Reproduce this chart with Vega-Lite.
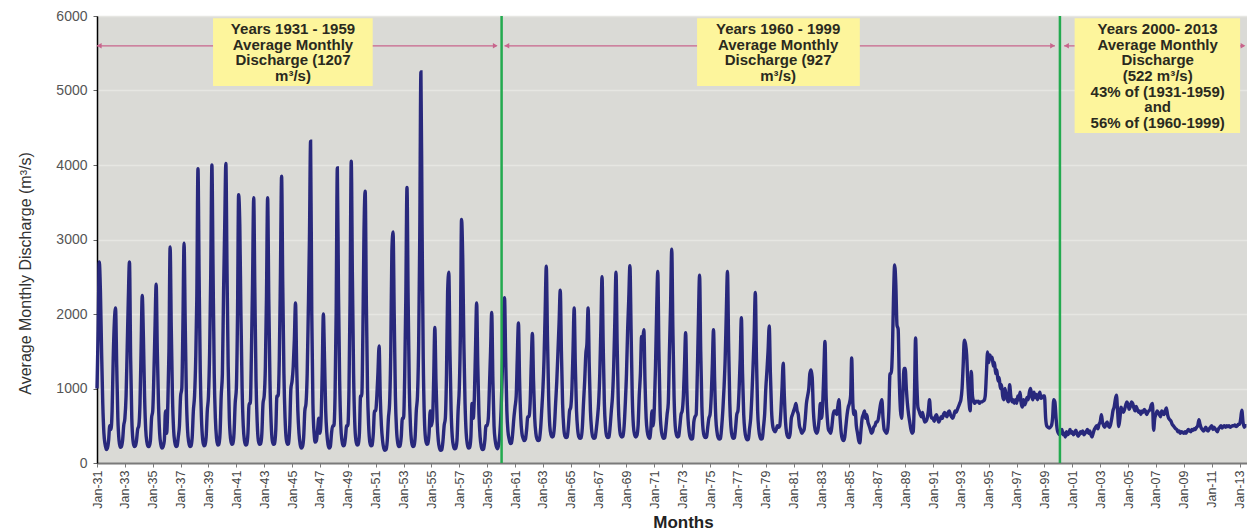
{
"$schema": "https://vega.github.io/schema/vega-lite/v6.json",
"width": 1150, "height": 447,
"autosize": {"type": "none"},
"padding": {"left": 97, "top": 16, "right": 0, "bottom": 69},
"background": "white",
"config": {
  "view": {"fill": "#dadad6", "stroke": "#9a9a9a", "strokeWidth": 1},
  "font": "Liberation Sans",
  "axis": {"labelFont": "Liberation Sans", "titleFont": "Liberation Sans"}
},
"datasets": {
"flow": [
{"t":"1931-01","q":1000},{"t":"1931-02","q":1800},{"t":"1931-03","q":2700},{"t":"1931-04","q":2300},{"t":"1931-05","q":1500},{"t":"1931-06","q":800},{"t":"1931-07","q":400},{"t":"1931-08","q":250},{"t":"1931-09","q":180},{"t":"1931-10","q":200},{"t":"1931-11","q":300},{"t":"1931-12","q":500},
{"t":"1932-01","q":450},{"t":"1932-02","q":700},{"t":"1932-03","q":1400},{"t":"1932-04","q":1900},{"t":"1932-05","q":2080},{"t":"1932-06","q":1300},{"t":"1932-07","q":600},{"t":"1932-08","q":300},{"t":"1932-09","q":210},{"t":"1932-10","q":220},{"t":"1932-11","q":300},{"t":"1932-12","q":500},
{"t":"1933-01","q":600},{"t":"1933-02","q":900},{"t":"1933-03","q":1500},{"t":"1933-04","q":2200},{"t":"1933-05","q":2700},{"t":"1933-06","q":1400},{"t":"1933-07","q":600},{"t":"1933-08","q":300},{"t":"1933-09","q":220},{"t":"1933-10","q":230},{"t":"1933-11","q":300},{"t":"1933-12","q":450},
{"t":"1934-01","q":500},{"t":"1934-02","q":800},{"t":"1934-03","q":1500},{"t":"1934-04","q":2250},{"t":"1934-05","q":1700},{"t":"1934-06","q":900},{"t":"1934-07","q":450},{"t":"1934-08","q":280},{"t":"1934-09","q":220},{"t":"1934-10","q":220},{"t":"1934-11","q":300},{"t":"1934-12","q":600},
{"t":"1935-01","q":700},{"t":"1935-02","q":1200},{"t":"1935-03","q":1800},{"t":"1935-04","q":2400},{"t":"1935-05","q":1500},{"t":"1935-06","q":800},{"t":"1935-07","q":400},{"t":"1935-08","q":250},{"t":"1935-09","q":200},{"t":"1935-10","q":220},{"t":"1935-11","q":300},{"t":"1935-12","q":700},
{"t":"1936-01","q":400},{"t":"1936-02","q":800},{"t":"1936-03","q":1500},{"t":"1936-04","q":2900},{"t":"1936-05","q":1800},{"t":"1936-06","q":900},{"t":"1936-07","q":450},{"t":"1936-08","q":280},{"t":"1936-09","q":220},{"t":"1936-10","q":230},{"t":"1936-11","q":350},{"t":"1936-12","q":500},
{"t":"1937-01","q":900},{"t":"1937-02","q":1000},{"t":"1937-03","q":1800},{"t":"1937-04","q":2950},{"t":"1937-05","q":1900},{"t":"1937-06","q":900},{"t":"1937-07","q":450},{"t":"1937-08","q":280},{"t":"1937-09","q":220},{"t":"1937-10","q":230},{"t":"1937-11","q":350},{"t":"1937-12","q":700},
{"t":"1938-01","q":900},{"t":"1938-02","q":1400},{"t":"1938-03","q":2200},{"t":"1938-04","q":3950},{"t":"1938-05","q":2500},{"t":"1938-06","q":1200},{"t":"1938-07","q":600},{"t":"1938-08","q":320},{"t":"1938-09","q":230},{"t":"1938-10","q":240},{"t":"1938-11","q":350},{"t":"1938-12","q":700},
{"t":"1939-01","q":900},{"t":"1939-02","q":1500},{"t":"1939-03","q":2500},{"t":"1939-04","q":4000},{"t":"1939-05","q":2600},{"t":"1939-06","q":1200},{"t":"1939-07","q":600},{"t":"1939-08","q":330},{"t":"1939-09","q":240},{"t":"1939-10","q":250},{"t":"1939-11","q":400},{"t":"1939-12","q":900},
{"t":"1940-01","q":1200},{"t":"1940-02","q":2300},{"t":"1940-03","q":3150},{"t":"1940-04","q":4020},{"t":"1940-05","q":2600},{"t":"1940-06","q":1300},{"t":"1940-07","q":600},{"t":"1940-08","q":330},{"t":"1940-09","q":250},{"t":"1940-10","q":260},{"t":"1940-11","q":400},{"t":"1940-12","q":800},
{"t":"1941-01","q":1000},{"t":"1941-02","q":2000},{"t":"1941-03","q":3600},{"t":"1941-04","q":3200},{"t":"1941-05","q":2000},{"t":"1941-06","q":1000},{"t":"1941-07","q":500},{"t":"1941-08","q":300},{"t":"1941-09","q":240},{"t":"1941-10","q":250},{"t":"1941-11","q":400},{"t":"1941-12","q":800},
{"t":"1942-01","q":800},{"t":"1942-02","q":1500},{"t":"1942-03","q":2400},{"t":"1942-04","q":3560},{"t":"1942-05","q":2300},{"t":"1942-06","q":1100},{"t":"1942-07","q":550},{"t":"1942-08","q":300},{"t":"1942-09","q":250},{"t":"1942-10","q":260},{"t":"1942-11","q":400},{"t":"1942-12","q":800},
{"t":"1943-01","q":900},{"t":"1943-02","q":1300},{"t":"1943-03","q":2200},{"t":"1943-04","q":3560},{"t":"1943-05","q":2200},{"t":"1943-06","q":1100},{"t":"1943-07","q":550},{"t":"1943-08","q":300},{"t":"1943-09","q":250},{"t":"1943-10","q":260},{"t":"1943-11","q":450},{"t":"1943-12","q":900},
{"t":"1944-01","q":900},{"t":"1944-02","q":1400},{"t":"1944-03","q":2500},{"t":"1944-04","q":3850},{"t":"1944-05","q":2400},{"t":"1944-06","q":1200},{"t":"1944-07","q":600},{"t":"1944-08","q":320},{"t":"1944-09","q":250},{"t":"1944-10","q":260},{"t":"1944-11","q":500},{"t":"1944-12","q":1000},
{"t":"1945-01","q":1100},{"t":"1945-02","q":1300},{"t":"1945-03","q":1650},{"t":"1945-04","q":2150},{"t":"1945-05","q":1300},{"t":"1945-06","q":700},{"t":"1945-07","q":400},{"t":"1945-08","q":250},{"t":"1945-09","q":200},{"t":"1945-10","q":220},{"t":"1945-11","q":350},{"t":"1945-12","q":700},
{"t":"1946-01","q":800},{"t":"1946-02","q":1200},{"t":"1946-03","q":2000},{"t":"1946-04","q":3000},{"t":"1946-05","q":4320},{"t":"1946-06","q":2000},{"t":"1946-07","q":800},{"t":"1946-08","q":400},{"t":"1946-09","q":280},{"t":"1946-10","q":300},{"t":"1946-11","q":450},{"t":"1946-12","q":600},
{"t":"1947-01","q":400},{"t":"1947-02","q":600},{"t":"1947-03","q":1200},{"t":"1947-04","q":2000},{"t":"1947-05","q":1400},{"t":"1947-06","q":700},{"t":"1947-07","q":400},{"t":"1947-08","q":250},{"t":"1947-09","q":200},{"t":"1947-10","q":220},{"t":"1947-11","q":400},{"t":"1947-12","q":500},
{"t":"1948-01","q":500},{"t":"1948-02","q":900},{"t":"1948-03","q":2000},{"t":"1948-04","q":3960},{"t":"1948-05","q":2300},{"t":"1948-06","q":1100},{"t":"1948-07","q":500},{"t":"1948-08","q":300},{"t":"1948-09","q":230},{"t":"1948-10","q":240},{"t":"1948-11","q":350},{"t":"1948-12","q":500},
{"t":"1949-01","q":500},{"t":"1949-02","q":1000},{"t":"1949-03","q":2200},{"t":"1949-04","q":4050},{"t":"1949-05","q":2500},{"t":"1949-06","q":1200},{"t":"1949-07","q":550},{"t":"1949-08","q":300},{"t":"1949-09","q":240},{"t":"1949-10","q":250},{"t":"1949-11","q":400},{"t":"1949-12","q":900},
{"t":"1950-01","q":900},{"t":"1950-02","q":1800},{"t":"1950-03","q":3100},{"t":"1950-04","q":3650},{"t":"1950-05","q":2200},{"t":"1950-06","q":1000},{"t":"1950-07","q":500},{"t":"1950-08","q":280},{"t":"1950-09","q":230},{"t":"1950-10","q":240},{"t":"1950-11","q":400},{"t":"1950-12","q":700},
{"t":"1951-01","q":700},{"t":"1951-02","q":900},{"t":"1951-03","q":1200},{"t":"1951-04","q":1570},{"t":"1951-05","q":900},{"t":"1951-06","q":500},{"t":"1951-07","q":300},{"t":"1951-08","q":200},{"t":"1951-09","q":170},{"t":"1951-10","q":180},{"t":"1951-11","q":300},{"t":"1951-12","q":600},
{"t":"1952-01","q":800},{"t":"1952-02","q":1500},{"t":"1952-03","q":2850},{"t":"1952-04","q":3100},{"t":"1952-05","q":2000},{"t":"1952-06","q":900},{"t":"1952-07","q":450},{"t":"1952-08","q":270},{"t":"1952-09","q":220},{"t":"1952-10","q":230},{"t":"1952-11","q":350},{"t":"1952-12","q":600},
{"t":"1953-01","q":600},{"t":"1953-02","q":1200},{"t":"1953-03","q":2200},{"t":"1953-04","q":3700},{"t":"1953-05","q":2200},{"t":"1953-06","q":1000},{"t":"1953-07","q":500},{"t":"1953-08","q":280},{"t":"1953-09","q":220},{"t":"1953-10","q":230},{"t":"1953-11","q":350},{"t":"1953-12","q":700},
{"t":"1954-01","q":900},{"t":"1954-02","q":1600},{"t":"1954-03","q":3000},{"t":"1954-04","q":5250},{"t":"1954-05","q":3200},{"t":"1954-06","q":1400},{"t":"1954-07","q":600},{"t":"1954-08","q":320},{"t":"1954-09","q":250},{"t":"1954-10","q":260},{"t":"1954-11","q":400},{"t":"1954-12","q":700},
{"t":"1955-01","q":500},{"t":"1955-02","q":600},{"t":"1955-03","q":1100},{"t":"1955-04","q":1820},{"t":"1955-05","q":1100},{"t":"1955-06","q":550},{"t":"1955-07","q":300},{"t":"1955-08","q":200},{"t":"1955-09","q":170},{"t":"1955-10","q":180},{"t":"1955-11","q":300},{"t":"1955-12","q":500},
{"t":"1956-01","q":600},{"t":"1956-02","q":1200},{"t":"1956-03","q":2290},{"t":"1956-04","q":2560},{"t":"1956-05","q":1500},{"t":"1956-06","q":700},{"t":"1956-07","q":350},{"t":"1956-08","q":230},{"t":"1956-09","q":190},{"t":"1956-10","q":200},{"t":"1956-11","q":300},{"t":"1956-12","q":700},
{"t":"1957-01","q":1000},{"t":"1957-02","q":1800},{"t":"1957-03","q":3270},{"t":"1957-04","q":2750},{"t":"1957-05","q":1600},{"t":"1957-06","q":800},{"t":"1957-07","q":400},{"t":"1957-08","q":250},{"t":"1957-09","q":200},{"t":"1957-10","q":210},{"t":"1957-11","q":350},{"t":"1957-12","q":800},
{"t":"1958-01","q":600},{"t":"1958-02","q":900},{"t":"1958-03","q":1500},{"t":"1958-04","q":2150},{"t":"1958-05","q":1300},{"t":"1958-06","q":650},{"t":"1958-07","q":350},{"t":"1958-08","q":220},{"t":"1958-09","q":180},{"t":"1958-10","q":190},{"t":"1958-11","q":300},{"t":"1958-12","q":500},
{"t":"1959-01","q":500},{"t":"1959-02","q":600},{"t":"1959-03","q":1000},{"t":"1959-04","q":1500},{"t":"1959-05","q":2020},{"t":"1959-06","q":1100},{"t":"1959-07","q":500},{"t":"1959-08","q":300},{"t":"1959-09","q":220},{"t":"1959-10","q":190},{"t":"1959-11","q":250},{"t":"1959-12","q":400},
{"t":"1960-01","q":700},{"t":"1960-02","q":1200},{"t":"1960-03","q":1800},{"t":"1960-04","q":2220},{"t":"1960-05","q":1400},{"t":"1960-06","q":700},{"t":"1960-07","q":420},{"t":"1960-08","q":320},{"t":"1960-09","q":260},{"t":"1960-10","q":270},{"t":"1960-11","q":400},{"t":"1960-12","q":600},
{"t":"1961-01","q":750},{"t":"1961-02","q":900},{"t":"1961-03","q":1400},{"t":"1961-04","q":1880},{"t":"1961-05","q":1100},{"t":"1961-06","q":600},{"t":"1961-07","q":400},{"t":"1961-08","q":330},{"t":"1961-09","q":300},{"t":"1961-10","q":320},{"t":"1961-11","q":450},{"t":"1961-12","q":620},
{"t":"1962-01","q":620},{"t":"1962-02","q":800},{"t":"1962-03","q":1300},{"t":"1962-04","q":1740},{"t":"1962-05","q":1100},{"t":"1962-06","q":600},{"t":"1962-07","q":400},{"t":"1962-08","q":320},{"t":"1962-09","q":300},{"t":"1962-10","q":310},{"t":"1962-11","q":450},{"t":"1962-12","q":700},
{"t":"1963-01","q":980},{"t":"1963-02","q":1400},{"t":"1963-03","q":2000},{"t":"1963-04","q":2640},{"t":"1963-05","q":1700},{"t":"1963-06","q":900},{"t":"1963-07","q":500},{"t":"1963-08","q":380},{"t":"1963-09","q":350},{"t":"1963-10","q":360},{"t":"1963-11","q":500},{"t":"1963-12","q":800},
{"t":"1964-01","q":1100},{"t":"1964-02","q":1500},{"t":"1964-03","q":1880},{"t":"1964-04","q":2320},{"t":"1964-05","q":1500},{"t":"1964-06","q":800},{"t":"1964-07","q":480},{"t":"1964-08","q":360},{"t":"1964-09","q":340},{"t":"1964-10","q":350},{"t":"1964-11","q":500},{"t":"1964-12","q":700},
{"t":"1965-01","q":750},{"t":"1965-02","q":1000},{"t":"1965-03","q":1500},{"t":"1965-04","q":2080},{"t":"1965-05","q":1300},{"t":"1965-06","q":700},{"t":"1965-07","q":450},{"t":"1965-08","q":350},{"t":"1965-09","q":330},{"t":"1965-10","q":340},{"t":"1965-11","q":480},{"t":"1965-12","q":800},
{"t":"1966-01","q":1100},{"t":"1966-02","q":1470},{"t":"1966-03","q":1600},{"t":"1966-04","q":2080},{"t":"1966-05","q":1300},{"t":"1966-06","q":700},{"t":"1966-07","q":450},{"t":"1966-08","q":350},{"t":"1966-09","q":330},{"t":"1966-10","q":340},{"t":"1966-11","q":450},{"t":"1966-12","q":600},
{"t":"1967-01","q":800},{"t":"1967-02","q":1200},{"t":"1967-03","q":1800},{"t":"1967-04","q":2500},{"t":"1967-05","q":1600},{"t":"1967-06","q":800},{"t":"1967-07","q":480},{"t":"1967-08","q":360},{"t":"1967-09","q":340},{"t":"1967-10","q":350},{"t":"1967-11","q":500},{"t":"1967-12","q":700},
{"t":"1968-01","q":900},{"t":"1968-02","q":1300},{"t":"1968-03","q":1900},{"t":"1968-04","q":2560},{"t":"1968-05","q":1600},{"t":"1968-06","q":800},{"t":"1968-07","q":480},{"t":"1968-08","q":370},{"t":"1968-09","q":350},{"t":"1968-10","q":360},{"t":"1968-11","q":500},{"t":"1968-12","q":800},
{"t":"1969-01","q":1200},{"t":"1969-02","q":1800},{"t":"1969-03","q":2190},{"t":"1969-04","q":2650},{"t":"1969-05","q":1800},{"t":"1969-06","q":900},{"t":"1969-07","q":500},{"t":"1969-08","q":380},{"t":"1969-09","q":350},{"t":"1969-10","q":370},{"t":"1969-11","q":500},{"t":"1969-12","q":900},
{"t":"1970-01","q":1200},{"t":"1970-02","q":1700},{"t":"1970-03","q":1650},{"t":"1970-04","q":1790},{"t":"1970-05","q":1100},{"t":"1970-06","q":600},{"t":"1970-07","q":420},{"t":"1970-08","q":350},{"t":"1970-09","q":330},{"t":"1970-10","q":450},{"t":"1970-11","q":700},{"t":"1970-12","q":500},
{"t":"1971-01","q":750},{"t":"1971-02","q":1300},{"t":"1971-03","q":2000},{"t":"1971-04","q":2570},{"t":"1971-05","q":1500},{"t":"1971-06","q":700},{"t":"1971-07","q":450},{"t":"1971-08","q":360},{"t":"1971-09","q":330},{"t":"1971-10","q":340},{"t":"1971-11","q":480},{"t":"1971-12","q":650},
{"t":"1972-01","q":800},{"t":"1972-02","q":1500},{"t":"1972-03","q":2100},{"t":"1972-04","q":2870},{"t":"1972-05","q":1800},{"t":"1972-06","q":900},{"t":"1972-07","q":500},{"t":"1972-08","q":380},{"t":"1972-09","q":350},{"t":"1972-10","q":360},{"t":"1972-11","q":500},{"t":"1972-12","q":650},
{"t":"1973-01","q":700},{"t":"1973-02","q":900},{"t":"1973-03","q":1300},{"t":"1973-04","q":1750},{"t":"1973-05","q":1000},{"t":"1973-06","q":600},{"t":"1973-07","q":420},{"t":"1973-08","q":340},{"t":"1973-09","q":320},{"t":"1973-10","q":330},{"t":"1973-11","q":550},{"t":"1973-12","q":620},
{"t":"1974-01","q":650},{"t":"1974-02","q":1200},{"t":"1974-03","q":1900},{"t":"1974-04","q":2520},{"t":"1974-05","q":1500},{"t":"1974-06","q":750},{"t":"1974-07","q":450},{"t":"1974-08","q":360},{"t":"1974-09","q":340},{"t":"1974-10","q":350},{"t":"1974-11","q":480},{"t":"1974-12","q":600},
{"t":"1975-01","q":650},{"t":"1975-02","q":900},{"t":"1975-03","q":1300},{"t":"1975-04","q":1790},{"t":"1975-05","q":1100},{"t":"1975-06","q":600},{"t":"1975-07","q":420},{"t":"1975-08","q":340},{"t":"1975-09","q":320},{"t":"1975-10","q":330},{"t":"1975-11","q":480},{"t":"1975-12","q":700},
{"t":"1976-01","q":1000},{"t":"1976-02","q":1400},{"t":"1976-03","q":2000},{"t":"1976-04","q":2570},{"t":"1976-05","q":1600},{"t":"1976-06","q":800},{"t":"1976-07","q":480},{"t":"1976-08","q":360},{"t":"1976-09","q":330},{"t":"1976-10","q":340},{"t":"1976-11","q":480},{"t":"1976-12","q":650},
{"t":"1977-01","q":700},{"t":"1977-02","q":1000},{"t":"1977-03","q":1400},{"t":"1977-04","q":1950},{"t":"1977-05","q":1200},{"t":"1977-06","q":650},{"t":"1977-07","q":430},{"t":"1977-08","q":340},{"t":"1977-09","q":310},{"t":"1977-10","q":320},{"t":"1977-11","q":460},{"t":"1977-12","q":600},
{"t":"1978-01","q":900},{"t":"1978-02","q":1300},{"t":"1978-03","q":1700},{"t":"1978-04","q":2290},{"t":"1978-05","q":1400},{"t":"1978-06","q":700},{"t":"1978-07","q":450},{"t":"1978-08","q":350},{"t":"1978-09","q":320},{"t":"1978-10","q":330},{"t":"1978-11","q":480},{"t":"1978-12","q":650},
{"t":"1979-01","q":1000},{"t":"1979-02","q":1250},{"t":"1979-03","q":1500},{"t":"1979-04","q":1840},{"t":"1979-05","q":1200},{"t":"1979-06","q":700},{"t":"1979-07","q":500},{"t":"1979-08","q":440},{"t":"1979-09","q":420},{"t":"1979-10","q":450},{"t":"1979-11","q":500},{"t":"1979-12","q":480},
{"t":"1980-01","q":500},{"t":"1980-02","q":700},{"t":"1980-03","q":1000},{"t":"1980-04","q":1340},{"t":"1980-05","q":900},{"t":"1980-06","q":550},{"t":"1980-07","q":400},{"t":"1980-08","q":350},{"t":"1980-09","q":340},{"t":"1980-10","q":400},{"t":"1980-11","q":600},{"t":"1980-12","q":650},
{"t":"1981-01","q":700},{"t":"1981-02","q":750},{"t":"1981-03","q":800},{"t":"1981-04","q":700},{"t":"1981-05","q":650},{"t":"1981-06","q":500},{"t":"1981-07","q":450},{"t":"1981-08","q":400},{"t":"1981-09","q":420},{"t":"1981-10","q":450},{"t":"1981-11","q":600},{"t":"1981-12","q":800},
{"t":"1982-01","q":900},{"t":"1982-02","q":1000},{"t":"1982-03","q":1200},{"t":"1982-04","q":1250},{"t":"1982-05","q":1150},{"t":"1982-06","q":700},{"t":"1982-07","q":500},{"t":"1982-08","q":420},{"t":"1982-09","q":400},{"t":"1982-10","q":450},{"t":"1982-11","q":600},{"t":"1982-12","q":800},
{"t":"1983-01","q":600},{"t":"1983-02","q":800},{"t":"1983-03","q":1200},{"t":"1983-04","q":1630},{"t":"1983-05","q":900},{"t":"1983-06","q":600},{"t":"1983-07","q":450},{"t":"1983-08","q":420},{"t":"1983-09","q":400},{"t":"1983-10","q":500},{"t":"1983-11","q":650},{"t":"1983-12","q":700},
{"t":"1984-01","q":700},{"t":"1984-02","q":650},{"t":"1984-03","q":750},{"t":"1984-04","q":850},{"t":"1984-05","q":600},{"t":"1984-06","q":400},{"t":"1984-07","q":320},{"t":"1984-08","q":300},{"t":"1984-09","q":350},{"t":"1984-10","q":500},{"t":"1984-11","q":650},{"t":"1984-12","q":750},
{"t":"1985-01","q":800},{"t":"1985-02","q":900},{"t":"1985-03","q":1410},{"t":"1985-04","q":800},{"t":"1985-05","q":650},{"t":"1985-06","q":700},{"t":"1985-07","q":500},{"t":"1985-08","q":400},{"t":"1985-09","q":300},{"t":"1985-10","q":270},{"t":"1985-11","q":450},{"t":"1985-12","q":600},
{"t":"1986-01","q":650},{"t":"1986-02","q":700},{"t":"1986-03","q":600},{"t":"1986-04","q":650},{"t":"1986-05","q":550},{"t":"1986-06","q":500},{"t":"1986-07","q":450},{"t":"1986-08","q":400},{"t":"1986-09","q":420},{"t":"1986-10","q":480},{"t":"1986-11","q":500},{"t":"1986-12","q":550},
{"t":"1987-01","q":550},{"t":"1987-02","q":600},{"t":"1987-03","q":700},{"t":"1987-04","q":800},{"t":"1987-05","q":850},{"t":"1987-06","q":600},{"t":"1987-07","q":450},{"t":"1987-08","q":420},{"t":"1987-09","q":400},{"t":"1987-10","q":450},{"t":"1987-11","q":700},{"t":"1987-12","q":1200},
{"t":"1988-01","q":1200},{"t":"1988-02","q":1500},{"t":"1988-03","q":2200},{"t":"1988-04","q":2660},{"t":"1988-05","q":2400},{"t":"1988-06","q":1850},{"t":"1988-07","q":1800},{"t":"1988-08","q":1100},{"t":"1988-09","q":700},{"t":"1988-10","q":600},{"t":"1988-11","q":900},{"t":"1988-12","q":1270},
{"t":"1989-01","q":1270},{"t":"1989-02","q":1000},{"t":"1989-03","q":800},{"t":"1989-04","q":650},{"t":"1989-05","q":550},{"t":"1989-06","q":450},{"t":"1989-07","q":400},{"t":"1989-08","q":420},{"t":"1989-09","q":900},{"t":"1989-10","q":1680},{"t":"1989-11","q":1100},{"t":"1989-12","q":750},
{"t":"1990-01","q":700},{"t":"1990-02","q":650},{"t":"1990-03","q":620},{"t":"1990-04","q":680},{"t":"1990-05","q":600},{"t":"1990-06","q":550},{"t":"1990-07","q":560},{"t":"1990-08","q":600},{"t":"1990-09","q":700},{"t":"1990-10","q":850},{"t":"1990-11","q":650},{"t":"1990-12","q":600},
{"t":"1991-01","q":600},{"t":"1991-02","q":560},{"t":"1991-03","q":620},{"t":"1991-04","q":650},{"t":"1991-05","q":600},{"t":"1991-06","q":550},{"t":"1991-07","q":580},{"t":"1991-08","q":620},{"t":"1991-09","q":600},{"t":"1991-10","q":650},{"t":"1991-11","q":680},{"t":"1991-12","q":640},
{"t":"1992-01","q":620},{"t":"1992-02","q":680},{"t":"1992-03","q":700},{"t":"1992-04","q":650},{"t":"1992-05","q":620},{"t":"1992-06","q":600},{"t":"1992-07","q":640},{"t":"1992-08","q":700},{"t":"1992-09","q":680},{"t":"1992-10","q":720},{"t":"1992-11","q":760},{"t":"1992-12","q":800},
{"t":"1993-01","q":850},{"t":"1993-02","q":1000},{"t":"1993-03","q":1300},{"t":"1993-04","q":1650},{"t":"1993-05","q":1600},{"t":"1993-06","q":1450},{"t":"1993-07","q":1100},{"t":"1993-08","q":830},{"t":"1993-09","q":700},{"t":"1993-10","q":1230},{"t":"1993-11","q":900},{"t":"1993-12","q":830},
{"t":"1994-01","q":800},{"t":"1994-02","q":830},{"t":"1994-03","q":820},{"t":"1994-04","q":830},{"t":"1994-05","q":800},{"t":"1994-06","q":820},{"t":"1994-07","q":820},{"t":"1994-08","q":830},{"t":"1994-09","q":840},{"t":"1994-10","q":900},{"t":"1994-11","q":1200},{"t":"1994-12","q":1490},
{"t":"1995-01","q":1350},{"t":"1995-02","q":1450},{"t":"1995-03","q":1400},{"t":"1995-04","q":1420},{"t":"1995-05","q":1300},{"t":"1995-06","q":1350},{"t":"1995-07","q":1200},{"t":"1995-08","q":1250},{"t":"1995-09","q":1100},{"t":"1995-10","q":1150},{"t":"1995-11","q":1000},{"t":"1995-12","q":1050},
{"t":"1996-01","q":900},{"t":"1996-02","q":850},{"t":"1996-03","q":1000},{"t":"1996-04","q":900},{"t":"1996-05","q":850},{"t":"1996-06","q":820},{"t":"1996-07","q":1050},{"t":"1996-08","q":900},{"t":"1996-09","q":820},{"t":"1996-10","q":850},{"t":"1996-11","q":800},{"t":"1996-12","q":850},
{"t":"1997-01","q":800},{"t":"1997-02","q":900},{"t":"1997-03","q":850},{"t":"1997-04","q":950},{"t":"1997-05","q":800},{"t":"1997-06","q":750},{"t":"1997-07","q":850},{"t":"1997-08","q":780},{"t":"1997-09","q":820},{"t":"1997-10","q":880},{"t":"1997-11","q":850},{"t":"1997-12","q":950},
{"t":"1998-01","q":1000},{"t":"1998-02","q":900},{"t":"1998-03","q":850},{"t":"1998-04","q":950},{"t":"1998-05","q":880},{"t":"1998-06","q":920},{"t":"1998-07","q":850},{"t":"1998-08","q":900},{"t":"1998-09","q":950},{"t":"1998-10","q":870},{"t":"1998-11","q":880},{"t":"1998-12","q":900},
{"t":"1999-01","q":900},{"t":"1999-02","q":600},{"t":"1999-03","q":500},{"t":"1999-04","q":480},{"t":"1999-05","q":470},{"t":"1999-06","q":480},{"t":"1999-07","q":500},{"t":"1999-08","q":600},{"t":"1999-09","q":850},{"t":"1999-10","q":820},{"t":"1999-11","q":600},{"t":"1999-12","q":450},
{"t":"2000-01","q":400},{"t":"2000-02","q":380},{"t":"2000-03","q":420},{"t":"2000-04","q":450},{"t":"2000-05","q":380},{"t":"2000-06","q":400},{"t":"2000-07","q":350},{"t":"2000-08","q":420},{"t":"2000-09","q":380},{"t":"2000-10","q":400},{"t":"2000-11","q":450},{"t":"2000-12","q":400},
{"t":"2001-01","q":420},{"t":"2001-02","q":380},{"t":"2001-03","q":400},{"t":"2001-04","q":440},{"t":"2001-05","q":400},{"t":"2001-06","q":360},{"t":"2001-07","q":380},{"t":"2001-08","q":420},{"t":"2001-09","q":400},{"t":"2001-10","q":430},{"t":"2001-11","q":380},{"t":"2001-12","q":400},
{"t":"2002-01","q":420},{"t":"2002-02","q":450},{"t":"2002-03","q":400},{"t":"2002-04","q":430},{"t":"2002-05","q":380},{"t":"2002-06","q":350},{"t":"2002-07","q":400},{"t":"2002-08","q":450},{"t":"2002-09","q":480},{"t":"2002-10","q":500},{"t":"2002-11","q":460},{"t":"2002-12","q":520},
{"t":"2003-01","q":550},{"t":"2003-02","q":650},{"t":"2003-03","q":550},{"t":"2003-04","q":500},{"t":"2003-05","q":480},{"t":"2003-06","q":520},{"t":"2003-07","q":550},{"t":"2003-08","q":500},{"t":"2003-09","q":480},{"t":"2003-10","q":520},{"t":"2003-11","q":600},{"t":"2003-12","q":700},
{"t":"2004-01","q":750},{"t":"2004-02","q":850},{"t":"2004-03","q":910},{"t":"2004-04","q":700},{"t":"2004-05","q":490},{"t":"2004-06","q":600},{"t":"2004-07","q":750},{"t":"2004-08","q":700},{"t":"2004-09","q":680},{"t":"2004-10","q":720},{"t":"2004-11","q":780},{"t":"2004-12","q":820},
{"t":"2005-01","q":780},{"t":"2005-02","q":720},{"t":"2005-03","q":760},{"t":"2005-04","q":820},{"t":"2005-05","q":800},{"t":"2005-06","q":740},{"t":"2005-07","q":700},{"t":"2005-08","q":760},{"t":"2005-09","q":720},{"t":"2005-10","q":680},{"t":"2005-11","q":700},{"t":"2005-12","q":650},
{"t":"2006-01","q":700},{"t":"2006-02","q":680},{"t":"2006-03","q":720},{"t":"2006-04","q":700},{"t":"2006-05","q":650},{"t":"2006-06","q":680},{"t":"2006-07","q":700},{"t":"2006-08","q":720},{"t":"2006-09","q":780},{"t":"2006-10","q":800},{"t":"2006-11","q":440},{"t":"2006-12","q":600},
{"t":"2007-01","q":650},{"t":"2007-02","q":700},{"t":"2007-03","q":680},{"t":"2007-04","q":650},{"t":"2007-05","q":620},{"t":"2007-06","q":700},{"t":"2007-07","q":680},{"t":"2007-08","q":650},{"t":"2007-09","q":700},{"t":"2007-10","q":740},{"t":"2007-11","q":650},{"t":"2007-12","q":600},
{"t":"2008-01","q":580},{"t":"2008-02","q":560},{"t":"2008-03","q":520},{"t":"2008-04","q":500},{"t":"2008-05","q":480},{"t":"2008-06","q":460},{"t":"2008-07","q":450},{"t":"2008-08","q":420},{"t":"2008-09","q":430},{"t":"2008-10","q":400},{"t":"2008-11","q":420},{"t":"2008-12","q":410},
{"t":"2009-01","q":400},{"t":"2009-02","q":420},{"t":"2009-03","q":400},{"t":"2009-04","q":430},{"t":"2009-05","q":450},{"t":"2009-06","q":430},{"t":"2009-07","q":420},{"t":"2009-08","q":450},{"t":"2009-09","q":440},{"t":"2009-10","q":460},{"t":"2009-11","q":450},{"t":"2009-12","q":480},
{"t":"2010-01","q":500},{"t":"2010-02","q":580},{"t":"2010-03","q":520},{"t":"2010-04","q":470},{"t":"2010-05","q":450},{"t":"2010-06","q":430},{"t":"2010-07","q":450},{"t":"2010-08","q":480},{"t":"2010-09","q":440},{"t":"2010-10","q":430},{"t":"2010-11","q":460},{"t":"2010-12","q":480},
{"t":"2011-01","q":500},{"t":"2011-02","q":450},{"t":"2011-03","q":480},{"t":"2011-04","q":460},{"t":"2011-05","q":440},{"t":"2011-06","q":420},{"t":"2011-07","q":460},{"t":"2011-08","q":480},{"t":"2011-09","q":500},{"t":"2011-10","q":470},{"t":"2011-11","q":490},{"t":"2011-12","q":500},
{"t":"2012-01","q":480},{"t":"2012-02","q":500},{"t":"2012-03","q":490},{"t":"2012-04","q":500},{"t":"2012-05","q":480},{"t":"2012-06","q":490},{"t":"2012-07","q":500},{"t":"2012-08","q":500},{"t":"2012-09","q":510},{"t":"2012-10","q":490},{"t":"2012-11","q":500},{"t":"2012-12","q":520},
{"t":"2013-01","q":520},{"t":"2013-02","q":600},{"t":"2013-03","q":710},{"t":"2013-04","q":550},{"t":"2013-05","q":480},{"t":"2013-06","q":500},{"t":"2013-07","q":500}
],
"splits": [{"t":"1960-01-15"},{"t":"2000-02-10"}],
"periods": [
  {"a":"1931-01-01","b":"1959-09-01","y":5600},
  {"a":"1960-04-01","b":"1999-10-01","y":5600},
  {"a":"2000-06-01","b":"2013-05-01","y":5600}
],
"arrows": [
  {"t":"1931-03-01","y":5600,"s":"triangle-left"},
  {"t":"1959-08-01","y":5600,"s":"triangle-right"},
  {"t":"1960-06-01","y":5600,"s":"triangle-left"},
  {"t":"1999-08-01","y":5600,"s":"triangle-right"},
  {"t":"2000-08-01","y":5600,"s":"triangle-left"},
  {"t":"2013-04-01","y":5600,"s":"triangle-right"}
],
"boxes": [
  {"a":"1939-05-01","b":"1950-10-15","y":5970,"y2":5060,"c":"1945-01-25","ty":5920,"label":"Years 1931 - 1959\nAverage Monthly\nDischarge  (1207\nm³/s)"},
  {"a":"1974-01-25","b":"1985-10-01","y":5970,"y2":5060,"c":"1979-11-20","ty":5920,"label":"Years 1960 - 1999\nAverage Monthly\nDischarge  (927\nm³/s)"},
  {"a":"2001-03-01","b":"2013-01-15","y":5970,"y2":4430,"c":"2007-02-15","ty":5920,"label":"Years 2000- 2013\nAverage Monthly\nDischarge\n(522 m³/s)\n43% of (1931-1959)\nand\n56% of (1960-1999)"}
]
},
"layer": [
  {
    "data": {"name": "flow"},
    "mark": {"type": "line", "color": "#28287c", "strokeWidth": 3.4, "interpolate": "monotone"},
    "encoding": {
      "x": {"field": "t", "type": "temporal",
        "scale": {"type": "utc", "domain": [{"year":1931,"month":1,"date":1,"utc":true},{"year":2013,"month":7,"date":15,"utc":true}]},
        "axis": {"title": "Months", "format": "%b-%y", "labelAngle": -90, "labelFontSize": 12.5, "labelColor": "#444", "labelPadding": 3,
          "tickCount": 100, "labelOverlap": false, "labelFlush": false, "labelBound": false,
          "grid": false, "domainColor": "#7a7a7a", "domainWidth": 2, "tickColor": "#7a7a7a", "tickSize": 4,
          "titleFontSize": 17, "titleFontWeight": "bold", "titleColor": "#222", "titleX": 586, "titleY": 59, "titleBaseline": "middle",
          "values": [{"year":1931,"utc":true},{"year":1933,"utc":true},{"year":1935,"utc":true},{"year":1937,"utc":true},{"year":1939,"utc":true},{"year":1941,"utc":true},{"year":1943,"utc":true},{"year":1945,"utc":true},{"year":1947,"utc":true},{"year":1949,"utc":true},{"year":1951,"utc":true},{"year":1953,"utc":true},{"year":1955,"utc":true},{"year":1957,"utc":true},{"year":1959,"utc":true},{"year":1961,"utc":true},{"year":1963,"utc":true},{"year":1965,"utc":true},{"year":1967,"utc":true},{"year":1969,"utc":true},{"year":1971,"utc":true},{"year":1973,"utc":true},{"year":1975,"utc":true},{"year":1977,"utc":true},{"year":1979,"utc":true},{"year":1981,"utc":true},{"year":1983,"utc":true},{"year":1985,"utc":true},{"year":1987,"utc":true},{"year":1989,"utc":true},{"year":1991,"utc":true},{"year":1993,"utc":true},{"year":1995,"utc":true},{"year":1997,"utc":true},{"year":1999,"utc":true},{"year":2001,"utc":true},{"year":2003,"utc":true},{"year":2005,"utc":true},{"year":2007,"utc":true},{"year":2009,"utc":true},{"year":2011,"utc":true},{"year":2013,"utc":true}]}},
      "y": {"field": "q", "type": "quantitative",
        "scale": {"domain": [0, 6000], "nice": false},
        "axis": {"title": "Average Monthly Discharge  (m³/s)", "values": [0,1000,2000,3000,4000,5000,6000], "format": "d",
          "grid": true, "gridColor": "#e6e6e2", "gridWidth": 1.5,
          "domainColor": "#000000", "domainWidth": 1.5, "tickColor": "#666", "tickSize": 4,
          "labelFontSize": 14, "labelColor": "#555", "labelPadding": 6,
          "titleFontSize": 16, "titleFontWeight": "normal", "titleColor": "#333",
          "titleX": -72, "titleY": 257, "titleBaseline": "middle", "titleAlign": "center"}}
    }
  },
  {
    "data": {"name": "splits"},
    "mark": {"type": "rule", "color": "#23aa4f", "strokeWidth": 2.5},
    "encoding": {"x": {"field": "t", "type": "temporal"}}
  },
  {
    "data": {"name": "periods"},
    "mark": {"type": "rule", "color": "#c8648c", "strokeWidth": 1.2},
    "encoding": {"x": {"field": "a", "type": "temporal"}, "x2": {"field": "b"}, "y": {"field": "y", "type": "quantitative"}}
  },
  {
    "data": {"name": "arrows"},
    "mark": {"type": "point", "filled": true, "color": "#c8648c", "size": 30, "opacity": 1},
    "encoding": {"x": {"field": "t", "type": "temporal"}, "y": {"field": "y", "type": "quantitative"}, "shape": {"field": "s", "type": "nominal", "scale": null}}
  },
  {
    "data": {"name": "boxes"},
    "mark": {"type": "rect", "color": "#fdf59c"},
    "encoding": {"x": {"field": "a", "type": "temporal"}, "x2": {"field": "b"}, "y": {"field": "y", "type": "quantitative"}, "y2": {"field": "y2"}}
  },
  {
    "data": {"name": "boxes"},
    "mark": {"type": "text", "font": "Liberation Sans", "fontWeight": "bold", "fontSize": 15, "lineHeight": 15.7, "baseline": "top", "align": "center", "color": "#2a2a1e", "lineBreak": "\n"},
    "encoding": {"x": {"field": "c", "type": "temporal"}, "y": {"field": "ty", "type": "quantitative"}, "text": {"field": "label"}}
  }
]
}
